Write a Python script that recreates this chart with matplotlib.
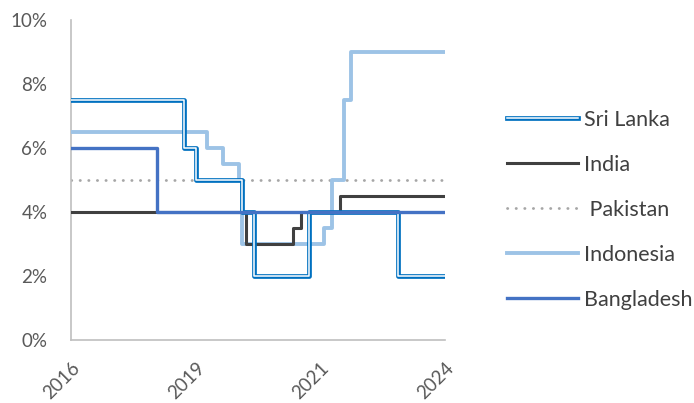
import matplotlib
matplotlib.use('Agg')
import matplotlib.pyplot as plt
import matplotlib.patheffects as pe

# x positions are chart periods (0..96), labels only at four points
tick_pos = [0, 32, 64, 96]
tick_labels = ['2016', '2019', '2021', '2024']

sri_lanka_x = [0, 29, 32, 44, 47, 61, 84, 96]
sri_lanka_y = [7.5, 6, 5, 4, 2, 4, 2, 2]

india_x = [0, 45, 57, 59, 69, 96]
india_y = [4, 3, 3.5, 4, 4.5, 4.5]

pakistan_x = [0, 96]
pakistan_y = [5, 5]

indonesia_x = [0, 35, 39, 43, 44, 65, 67, 70, 72, 96]
indonesia_y = [6.5, 6, 5.5, 5, 3, 3.5, 5, 7.5, 9, 9]

bangladesh_x = [0, 22, 96]
bangladesh_y = [6, 4, 4]

plt.rcParams['font.family'] = ['Lato', 'DejaVu Sans']

fig = plt.figure(figsize=(6.94, 4.03), dpi=100)
ax = fig.add_axes([0.1023, 0.1563, 0.5389, 0.794])

l_pak, = ax.plot(pakistan_x, pakistan_y, color='#A6A6A6', lw=2.0,
                 linestyle=(0, (0.1, 3.0)), dash_capstyle='round',
                 label=' Pakistan', zorder=2)
l_ind, = ax.plot(indonesia_x, indonesia_y, drawstyle='steps-post',
                 color='#9DC3E6', lw=2.8, label='Indonesia', zorder=3)
l_india, = ax.plot(india_x, india_y, drawstyle='steps-post',
                   color='#404040', lw=2.2, label='India', zorder=4)
l_sri, = ax.plot(sri_lanka_x, sri_lanka_y, drawstyle='steps-post',
                 color='white', lw=1.1, label='Sri Lanka', zorder=5,
                 path_effects=[pe.Stroke(linewidth=3.4, foreground='#0070C0'),
                               pe.Normal()])
l_ban, = ax.plot(bangladesh_x, bangladesh_y, drawstyle='steps-post',
                 color='#4472C4', lw=2.4, label='Bangladesh', zorder=6)

ax.set_xlim(0, 96)
ax.set_ylim(0, 10)
ax.set_yticks([0, 2, 4, 6, 8, 10])
ax.set_yticklabels(['%d%%' % v for v in [0, 2, 4, 6, 8, 10]])
ax.set_xticks(tick_pos)
ax.set_xticklabels(tick_labels, rotation=45, ha='right', rotation_mode='anchor')

for s in ['top', 'right']:
    ax.spines[s].set_visible(False)
for s in ['left', 'bottom']:
    ax.spines[s].set_color('#BFBFBF')
    ax.spines[s].set_linewidth(1.2)
ax.tick_params(length=0, labelsize=13.5, labelcolor='#595959')
ax.tick_params(axis='y', pad=17)
ax.tick_params(axis='x', pad=14)

leg = fig.legend([l_sri, l_india, l_pak, l_ind, l_ban],
                 ['Sri Lanka', 'India', ' Pakistan', 'Indonesia', 'Bangladesh'],
                 loc='center left', bbox_to_anchor=(0.731, 0.479),
                 frameon=False, fontsize=15.5, handlelength=3.3,
                 handletextpad=0.28, labelspacing=1.16, borderpad=0,
                 borderaxespad=0)
for t in leg.get_texts():
    t.set_color('#404040')

fig.savefig('out.png', dpi=100)
